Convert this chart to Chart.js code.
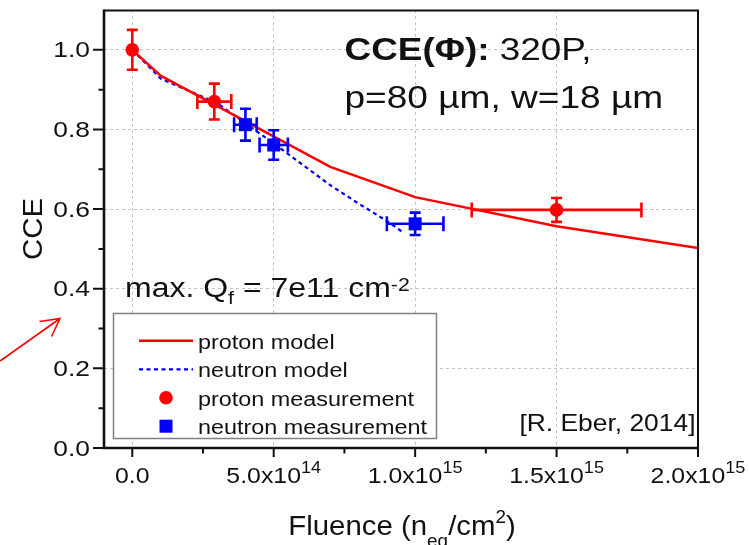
<!DOCTYPE html>
<html><head><meta charset="utf-8">
<script src="https://cdn.jsdelivr.net/npm/chart.js@4.4.0/dist/chart.umd.min.js"></script>
<style>html,body{margin:0;padding:0;background:#fff;}#wrap{width:749px;height:545px;position:relative;}</style>
</head><body><div id="wrap"><canvas id="c" width="749" height="545"></canvas></div>
<script>
// ---------- data ----------
const protonX = [0, 2.9e14, 1.5e15];
const protonY = [1.0, 0.87, 0.598];
const protonXErr = [0, 0.6e14, 3e14];
const protonYErr = [0.05, 0.045, 0.03];

const neutronX = [4e14, 5e14, 1e15];
const neutronY = [0.812, 0.761, 0.563];
const neutronXErr = [0.4e14, 0.5e14, 1e14];
const neutronYErr = [0.04, 0.037, 0.028];

const protonModelX = [0, 1e14, 7e14, 1e15, 1.5e15, 2e15];
const protonModelY = [1.0, 0.935, 0.706, 0.63, 0.557, 0.502];

const neutronModelX = [0, 1e14, 3e14, 5e14, 7e14, 8e14, 9e14, 9.6e14];
const neutronModelY = [1.0, 0.928, 0.866, 0.765, 0.66, 0.614, 0.57, 0.54];

const xTickVals = [0, 5e14, 1e15, 1.5e15, 2e15];
const xTickMant = ['0.0', '5.0x10', '1.0x10', '1.5x10', '2.0x10'];
const xTickExp = ['', '14', '15', '15', '15'];
const xMinorVals = [2.5e14, 7.5e14, 1.25e15, 1.75e15];
const yTickVals = [0, 0.2, 0.4, 0.6, 0.8, 1.0];
const yTickLabels = ['0.0', '0.2', '0.4', '0.6', '0.8', '1.0'];
const yMinorVals = [0.1, 0.3, 0.5, 0.7, 0.9];

const legendLabels = ['proton model', 'neutron model', 'proton measurement', 'neutron measurement'];
const yTitle = 'CCE';
const xTitleParts = ['Fluence (n', 'eq', '/cm', '2', ')'];
const noteBold = 'CCE(Φ):';
const note1 = ' 320P,';
const note2 = 'p=80 µm, w=18 µm';
const qfParts = ['max. Q', 'f', ' = 7e11 cm', '-2'];
const credit = '[R. Eber, 2014]';

// ---------- styling ----------
const RED = '#ff0000', BLUE = '#0000ff', INK = '#111111';
const FONT = '"Liberation Sans", Arial, Helvetica, sans-serif';

function rich(ctx, segs, x, y, align, sx, color) {
  ctx.save();
  ctx.fillStyle = color || INK;
  ctx.textBaseline = 'alphabetic';
  ctx.textAlign = 'left';
  let total = 0;
  for (const s of segs) {
    ctx.font = (s.bold ? 'bold ' : '') + s.size + 'px ' + FONT;
    s.w = ctx.measureText(s.t).width * sx;
    total += s.w;
  }
  let cx = align === 'center' ? x - total / 2 : align === 'right' ? x - total : x;
  for (const s of segs) {
    ctx.font = (s.bold ? 'bold ' : '') + s.size + 'px ' + FONT;
    ctx.save();
    ctx.translate(cx, y + (s.dy || 0));
    ctx.scale(sx, 1);
    ctx.fillText(s.t, 0, 0);
    ctx.restore();
    cx += s.w;
  }
  ctx.restore();
}

function pts(xs, ys) { return xs.map((x, i) => ({x: x, y: ys[i]})); }

const decor = {
  id: 'decor',
  afterDatasetsDraw(chart) {
    const ctx = chart.ctx, xs = chart.scales.x, ys = chart.scales.y;
    function errs(X, Y, XE, YE, color) {
      ctx.save();
      ctx.strokeStyle = color; ctx.lineWidth = 2.6; ctx.lineCap = 'butt';
      for (let i = 0; i < X.length; i++) {
        const px = xs.getPixelForValue(X[i]), py = ys.getPixelForValue(Y[i]);
        if (YE[i] > 0) {
          const t = ys.getPixelForValue(Y[i] + YE[i]), b = ys.getPixelForValue(Y[i] - YE[i]);
          ctx.beginPath();
          ctx.moveTo(px, t); ctx.lineTo(px, b);
          ctx.moveTo(px - 5.5, t); ctx.lineTo(px + 5.5, t);
          ctx.moveTo(px - 5.5, b); ctx.lineTo(px + 5.5, b);
          ctx.stroke();
        }
        if (XE[i] > 0) {
          const l = xs.getPixelForValue(X[i] - XE[i]), r = xs.getPixelForValue(X[i] + XE[i]);
          ctx.beginPath();
          ctx.moveTo(l, py); ctx.lineTo(r, py);
          ctx.moveTo(l, py - 7.5); ctx.lineTo(l, py + 7.5);
          ctx.moveTo(r, py - 7.5); ctx.lineTo(r, py + 7.5);
          ctx.stroke();
        }
      }
      ctx.restore();
    }
    errs(protonX, protonY, protonXErr, protonYErr, RED);
    errs(neutronX, neutronY, neutronXErr, neutronYErr, BLUE);
  },
  afterDraw(chart) {
    const ctx = chart.ctx, xs = chart.scales.x, ys = chart.scales.y, a = chart.chartArea;
    ctx.save();
    // frame
    ctx.strokeStyle = INK;
    ctx.lineWidth = 2;
    ctx.beginPath(); ctx.moveTo(a.left, a.top + 0.5); ctx.lineTo(a.right, a.top + 0.5); ctx.lineTo(a.right, a.bottom); ctx.stroke();
    ctx.lineWidth = 2.6;
    ctx.beginPath(); ctx.moveTo(a.left, a.top - 0.5); ctx.lineTo(a.left, a.bottom); ctx.lineTo(a.right + 1, a.bottom); ctx.stroke();
    // ticks
    ctx.lineWidth = 2;
    ctx.beginPath();
    yTickVals.forEach(v => { const p = ys.getPixelForValue(v); ctx.moveTo(a.left - 11, p); ctx.lineTo(a.left, p); });
    yMinorVals.forEach(v => { const p = ys.getPixelForValue(v); ctx.moveTo(a.left - 5.5, p); ctx.lineTo(a.left, p); });
    xTickVals.forEach(v => { const p = xs.getPixelForValue(v); ctx.moveTo(p, a.bottom); ctx.lineTo(p, a.bottom + 9); });
    xMinorVals.forEach(v => { const p = xs.getPixelForValue(v); ctx.moveTo(p, a.bottom); ctx.lineTo(p, a.bottom + 5.5); });
    ctx.stroke();
    // tick labels
    yTickVals.forEach((v, i) => {
      rich(ctx, [{t: yTickLabels[i], size: 22}], a.left - 14, ys.getPixelForValue(v) + 7.6, 'right', 1.2);
    });
    xTickVals.forEach((v, i) => {
      const segs = [{t: xTickMant[i], size: 22}];
      if (xTickExp[i]) segs.push({t: xTickExp[i], size: 16, dy: -9.6});
      rich(ctx, segs, xs.getPixelForValue(v), 483, 'center', 1.13);
    });
    // axis titles
    ctx.save();
    ctx.translate(41.7, (a.top + a.bottom) / 2);
    ctx.rotate(-Math.PI / 2);
    rich(ctx, [{t: yTitle, size: 28}], 0, 0, 'center', 1.05);
    ctx.restore();
    rich(ctx, [
      {t: xTitleParts[0], size: 28},
      {t: xTitleParts[1], size: 18, dy: 12},
      {t: xTitleParts[2], size: 28},
      {t: xTitleParts[3], size: 18, dy: -12.3},
      {t: xTitleParts[4], size: 28}
    ], (a.left + a.right) / 2 + 1, 535, 'center', 1.05);
    // annotations
    rich(ctx, [{t: noteBold, size: 31, bold: true}, {t: note1, size: 31}], 344.5, 59.5, 'left', 1.19);
    rich(ctx, [{t: note2, size: 31}], 344.5, 108.3, 'left', 1.195);
    rich(ctx, [
      {t: qfParts[0], size: 27},
      {t: qfParts[1], size: 18, dy: 7.5},
      {t: qfParts[2], size: 27},
      {t: qfParts[3], size: 18, dy: -6}
    ], 125, 296.7, 'left', 1.185);
    rich(ctx, [{t: credit, size: 24}], 695.5, 431, 'right', 1.1);
    // legend box
    ctx.fillStyle = '#ffffff';
    ctx.fillRect(113.5, 313.5, 323, 125);
    ctx.strokeStyle = '#808080'; ctx.lineWidth = 1.5;
    ctx.strokeRect(113.5, 313.5, 323, 125);
    const rowsY = [340.7, 369.4, 397.8, 426.2];
    const dsByLabel = {};
    chart.data.datasets.forEach(d => { dsByLabel[d.label] = d; });
    legendLabels.forEach((lab, i) => {
      const d = dsByLabel[lab], y = rowsY[i];
      ctx.save();
      if (d.type === 'line') {
        ctx.strokeStyle = d.borderColor; ctx.lineWidth = d.borderWidth;
        ctx.setLineDash(d.borderDash || []);
        ctx.beginPath(); ctx.moveTo(139, y); ctx.lineTo(193, y); ctx.stroke();
      } else {
        ctx.fillStyle = d.backgroundColor;
        ctx.beginPath();
        if (d.pointStyle === 'circle') ctx.arc(166, y, d.pointRadius, 0, Math.PI * 2);
        else { const h = d.pointRadius * Math.SQRT1_2; ctx.rect(166 - h, y - h, 2 * h, 2 * h); }
        ctx.fill();
      }
      ctx.restore();
      rich(ctx, [{t: lab, size: 20}], 198, y + 8, 'left', 1.17);
    });
    // red arrow outside plot
    ctx.strokeStyle = RED; ctx.lineWidth = 1.6; ctx.setLineDash([]);
    ctx.beginPath();
    ctx.moveTo(0, 361); ctx.lineTo(60, 318.5);
    ctx.moveTo(39.5, 321.5); ctx.lineTo(60, 318.5); ctx.lineTo(51.5, 336.5);
    ctx.stroke();
    ctx.restore();
  }
};

new Chart(document.getElementById('c'), {
  type: 'scatter',
  data: {
    datasets: [
      {label: 'proton measurement', data: pts(protonX, protonY), pointStyle: 'circle', pointRadius: 6.8,
       backgroundColor: RED, borderColor: RED, borderWidth: 0, order: 0},
      {label: 'neutron measurement', data: pts(neutronX, neutronY), pointStyle: 'rect', pointRadius: 9.2,
       backgroundColor: BLUE, borderColor: BLUE, borderWidth: 0, order: 0},
      {label: 'proton model', type: 'line', data: pts(protonModelX, protonModelY), borderColor: RED,
       backgroundColor: RED, borderWidth: 2.5, pointRadius: 0, fill: false, tension: 0, order: 1},
      {label: 'neutron model', type: 'line', data: pts(neutronModelX, neutronModelY), borderColor: BLUE,
       backgroundColor: BLUE, borderWidth: 2.2, borderDash: [4, 3.5], pointRadius: 0, fill: false, tension: 0, order: 1}
    ]
  },
  options: {
    responsive: false, animation: false, devicePixelRatio: 1, events: [],
    layout: {padding: {left: 0, top: 10, right: 51, bottom: 0}},
    plugins: {legend: {display: false}, tooltip: {enabled: false}},
    scales: {
      x: {
        type: 'linear', min: -1e14, max: 2e15,
        afterBuildTicks: s => { s.ticks = xTickVals.map(v => ({value: v})); },
        afterFit: s => { s.height = 97; },
        ticks: {display: false},
        grid: {color: '#c4c4c4', lineWidth: 1, drawTicks: false},
        border: {display: false, dash: [3, 3]}
      },
      y: {
        type: 'linear', min: 0, max: 1.1,
        afterBuildTicks: s => { s.ticks = yTickVals.map(v => ({value: v})); },
        afterFit: s => { s.width = 104; },
        ticks: {display: false},
        grid: {color: '#c4c4c4', lineWidth: 1, drawTicks: false},
        border: {display: false, dash: [3, 3]}
      }
    }
  },
  plugins: [decor]
});
</script>
</body></html>
